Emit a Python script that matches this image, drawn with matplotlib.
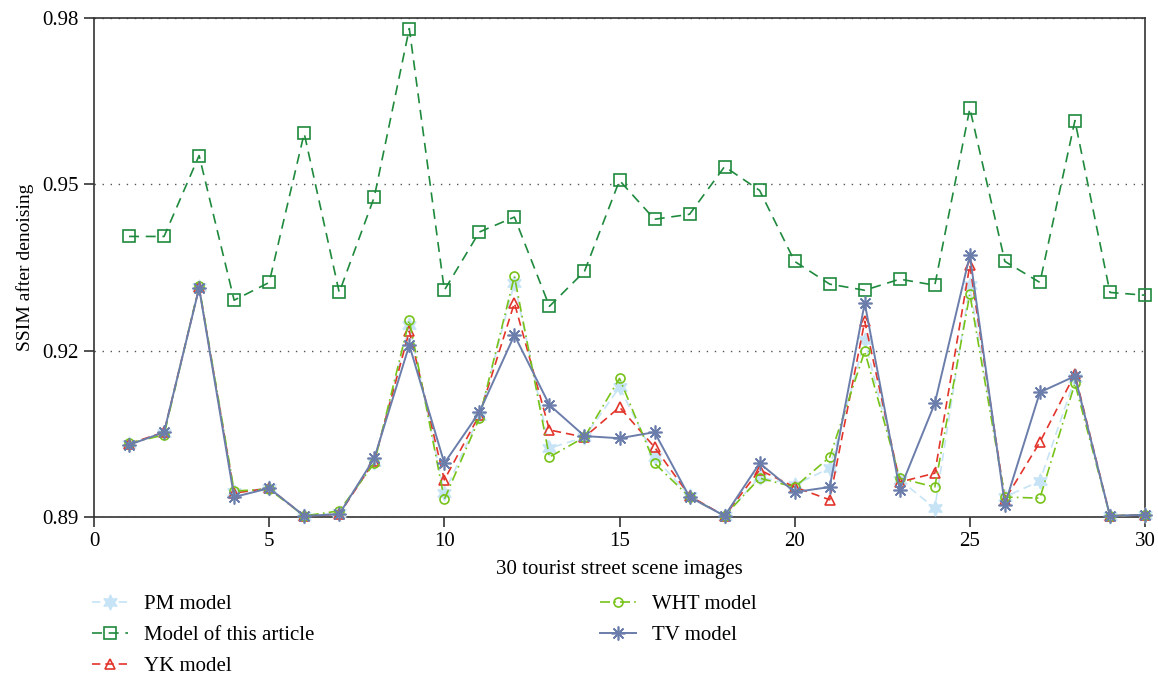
import numpy as np
import matplotlib
matplotlib.use("Agg")
import matplotlib.pyplot as plt

plt.rcParams['font.family'] = ['Liberation Serif', 'DejaVu Serif']

images = list(range(1, 31))

pm = [0.9032, 0.9051, 0.9314, 0.8945, 0.8952, 0.8902, 0.8907, 0.8999, 0.9246, 0.8943,
      0.9082, 0.9322, 0.9024, 0.9044, 0.9134, 0.9008, 0.8938, 0.8902, 0.8972, 0.8958,
      0.8988, 0.9219, 0.8967, 0.8916, 0.9318, 0.8936, 0.8965, 0.9150, 0.8902, 0.8904]
ours = [0.9406, 0.9406, 0.9552, 0.9291, 0.9323, 0.9592, 0.9305, 0.9477, 0.9781, 0.9309,
        0.9414, 0.9441, 0.9280, 0.9343, 0.9507, 0.9437, 0.9446, 0.9532, 0.9489, 0.9361,
        0.9320, 0.9309, 0.9329, 0.9318, 0.9637, 0.9361, 0.9323, 0.9615, 0.9305, 0.9300]
yk = [0.9032, 0.9053, 0.9314, 0.8943, 0.8952, 0.8902, 0.8905, 0.9001, 0.9235, 0.8967,
      0.9084, 0.9286, 0.9057, 0.9044, 0.9098, 0.9026, 0.8938, 0.8902, 0.8985, 0.8954,
      0.8931, 0.9253, 0.8963, 0.8979, 0.9354, 0.8931, 0.9035, 0.9158, 0.8902, 0.8904]
wht = [0.9033, 0.9048, 0.9316, 0.8947, 0.8950, 0.8902, 0.8911, 0.8997, 0.9255, 0.8932,
       0.9078, 0.9334, 0.9008, 0.9044, 0.9150, 0.8997, 0.8936, 0.8902, 0.8970, 0.8954,
       0.9008, 0.9199, 0.8970, 0.8954, 0.9302, 0.8936, 0.8934, 0.9141, 0.8902, 0.8904]
tv = [0.9030, 0.9053, 0.9313, 0.8936, 0.8952, 0.8902, 0.8905, 0.9006, 0.9210, 0.8997,
      0.9089, 0.9228, 0.9102, 0.9046, 0.9042, 0.9053, 0.8936, 0.8902, 0.8997, 0.8945,
      0.8954, 0.9286, 0.8949, 0.9105, 0.9372, 0.8922, 0.9125, 0.9154, 0.8902, 0.8904]

fig = plt.figure(figsize=(11.58, 6.76), dpi=100)
ax = fig.add_axes([94 / 1158, 1 - 517 / 676, (1145 - 94) / 1158, (517 - 18) / 676])

h_pm, = ax.plot(images, pm, color='#c6e4f6', ls=(0, (5, 3)), lw=1.2,
                marker=(6, 1, 0), ms=11, mfc='#c6e4f6', mec='#c6e4f6',
                label='PM model', clip_on=False, zorder=3)
h_ours, = ax.plot(images, ours, color='#1f8a3d', ls=(0, (6, 4)), lw=1.2,
                  marker='s', ms=9, mfc='none', mec='#1f8a3d', mew=1.2,
                  label='Model of this article', clip_on=False, zorder=4)
h_yk, = ax.plot(images, yk, color='#e2352b', ls=(0, (5, 3)), lw=1.2,
                marker='^', ms=7.5, mfc='none', mec='#e2352b', mew=1.2,
                label='YK model', clip_on=False, zorder=5)
h_wht, = ax.plot(images, wht, color='#78c31a', ls=(0, (6, 2.5, 1, 2.5)), lw=1.2,
                 marker='o', ms=6.5, mfc='none', mec='#78c31a', mew=1.2,
                 label='WHT model', clip_on=False, zorder=6)
h_tv, = ax.plot(images, tv, color='#6b7dab', ls='-', lw=1.4,
                marker=(8, 2, 0), ms=10, mec='#6b7dab', mew=1.2,
                label='TV model', clip_on=False, zorder=7)

ax.set_xlim(0, 30)
ax.set_ylim(0.89, 0.98)
ax.set_xticks([0, 5, 10, 15, 20, 25, 30])
ax.set_yticks([0.89, 0.92, 0.95, 0.98])
ax.set_yticklabels(['0.89', '0.92', '0.95', '0.98'])
ax.tick_params(direction='out', length=7, width=1.2, labelsize=15, pad=4, color='#333333')
ax.yaxis.grid(True, linestyle=(0, (1, 4.8)), color='#555555', lw=1)
ax.set_axisbelow(True)
for s in ax.spines.values():
    s.set_linewidth(1.2)
    s.set_color('#333333')

ax.set_xlabel('30 tourist street scene images', fontsize=15, labelpad=6)
ax.set_ylabel('SSIM after denoising', fontsize=14, labelpad=6)

# legend below the plot, two blocks
leg_kw = dict(frameon=False, fontsize=15, handlelength=1.7, handletextpad=0.8,
              labelspacing=0.55, loc='upper left', borderaxespad=0)
fig.legend(handles=[h_pm, h_ours, h_yk], bbox_to_anchor=(84 / 1158, 1 - 586 / 676), **leg_kw)
fig.legend(handles=[h_wht, h_tv], bbox_to_anchor=(592 / 1158, 1 - 586 / 676), **leg_kw)

fig.savefig('out.png', dpi=100)
